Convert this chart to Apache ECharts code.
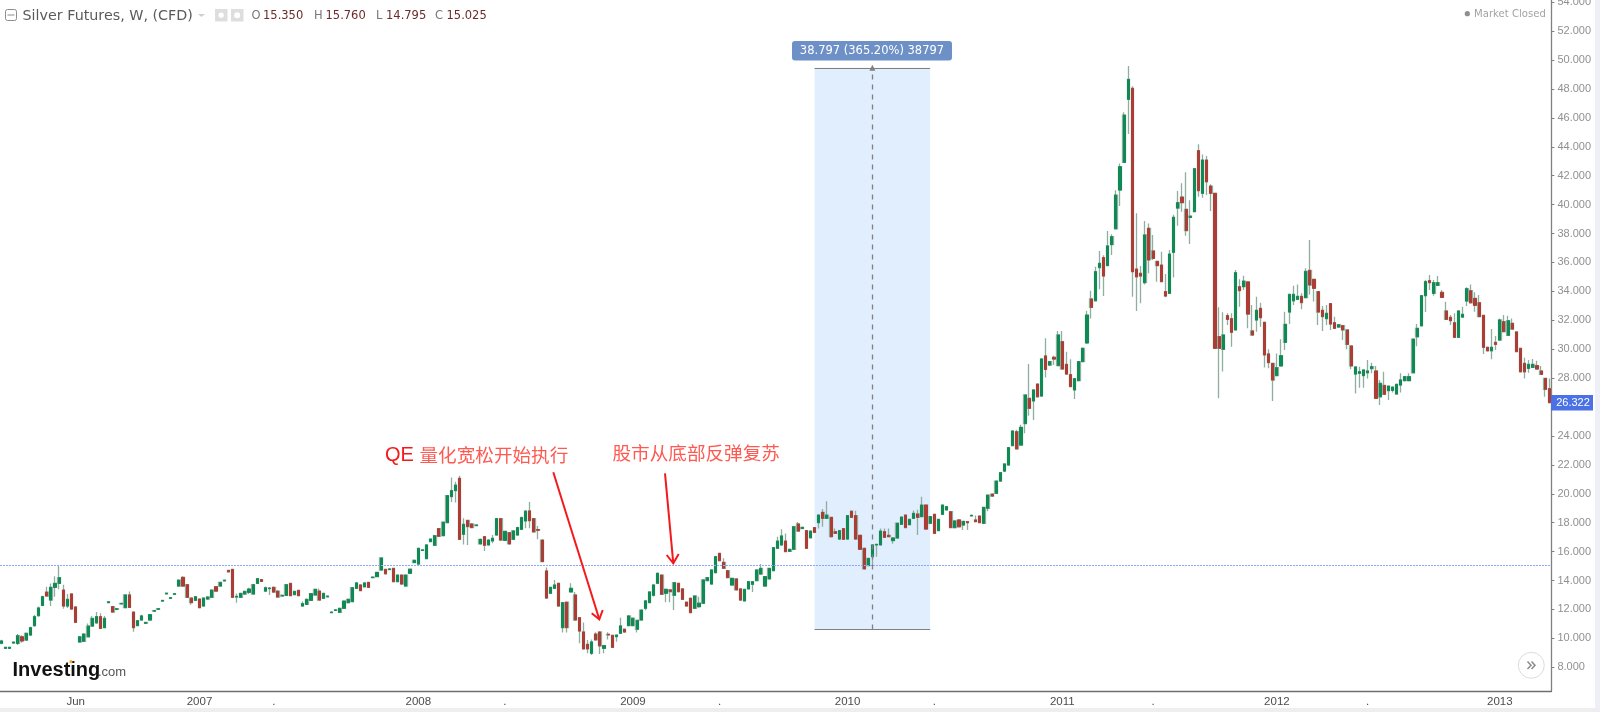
<!DOCTYPE html>
<html>
<head>
<meta charset="utf-8">
<title>Silver Futures, W, (CFD)</title>
<script src="https://cdn.jsdelivr.net/npm/echarts@6/dist/echarts.min.js"></script>
<style>
  html, body { margin: 0; padding: 0; background: #fff; }
  /* the source is a soft, upscaled screenshot */
  #chart { width: 1600px; height: 712px; filter: blur(0.45px); }
</style>
</head>
<body>
<div id="chart"></div>
<script>
// weekly candles: [open, close, low, high]
const weeks2006 = [
  [9.66,9.82,9.6,9.9],[9.31,9.38,9.3,9.4],[9.31,9.38,9.3,9.4],[9.68,9.74,9.65,9.76],[9.65,10.18,9.55,10.3],
  [10.11,9.82,9.7,10.22],[9.88,10.35,9.85,10.4],[10.23,10.74,10.2,10.8],[10.88,11.5,10.8,11.62],[11.57,12.1,11.5,12.2],
  [12.28,12.88,12.23,12.95],[13.2,12.93,12.88,13.57],[12.65,13.53,12.24,13.8],[13.53,13.8,12.88,14.3],[13.8,14.2,13.4,15.0],
  [13.34,12.24,12.05,13.7],[12.24,12.7,12.1,13.07],[13.07,12.03,12.0,13.1],[12.17,11.11,11.1,12.2],[9.75,10.11,9.72,10.15],
  [9.8,10.3,9.75,10.35],[10.11,10.85,10.08,11.03],[10.85,11.38,10.8,11.55],[11.08,11.5,11.0,11.82],[11.5,10.69,10.64,11.73],
  [10.74,11.38,10.7,11.55],[12.47,12.53,12.46,12.54],[12.2,11.82,11.8,12.22],[12.0,12.05,11.99,12.06],[12.38,12.42,12.37,12.43],
  [12.12,13.0,12.1,13.02],[13.0,12.14,12.1,13.25],[11.82,10.74,10.46,11.85],[10.88,11.22,10.85,11.25],[11.27,11.55,11.22,11.64],
  [11.04,11.1,11.03,11.11],[11.27,11.64,11.24,11.66],[11.88,11.92,11.87,11.93],[12.01,12.05,12.0,12.06],[12.58,12.62,12.57,12.63],
  [13.08,13.12,13.07,13.13],[12.77,12.81,12.76,12.82],[13.05,13.09,13.04,13.1],[13.62,14.03,13.55,14.06],[14.22,13.62,13.55,14.3],
  [13.71,12.84,12.8,13.75],[12.79,12.47,12.33,12.82],[12.63,12.88,12.6,12.92]
];
const weeks2007 = [
  [12.72,12.12,12.1,12.75],[12.24,12.79,12.2,12.82],[12.72,12.86,12.7,12.88],[12.84,13.34,12.8,13.38],[13.57,13.27,13.22,13.6],
  [13.62,13.87,13.58,13.9],[13.98,14.02,13.97,14.03],[14.7,14.6,14.58,14.72],[14.77,12.84,12.8,14.8],[12.86,12.9,12.47,13.1],
  [12.84,13.11,12.8,13.15],[13.07,13.25,13.0,13.3],[13.18,13.41,13.07,13.5],[13.07,13.71,13.02,13.75],[13.8,14.13,13.78,14.17],
  [14.06,13.94,13.9,14.1],[13.27,13.5,13.2,13.58],[13.45,13.47,13.0,13.55],[13.53,13.2,13.15,13.58],[13.27,12.86,12.82,13.3],
  [12.93,12.97,12.9,13.05],[12.97,13.71,12.95,13.75],[13.8,12.95,12.92,13.85],[13.02,13.25,12.98,13.3],[13.32,12.95,12.92,13.35],
  [12.24,12.4,12.2,12.55],[12.35,12.7,12.3,12.75],[12.63,13.09,12.6,13.12],[13.0,13.39,12.95,13.45],[13.27,12.65,12.6,13.45],
  [12.77,13.11,12.73,13.14],[12.88,12.92,12.87,12.93],[11.78,11.82,11.77,11.83],[11.93,11.97,11.92,11.98],[11.8,12.08,11.75,12.1],
  [12.08,12.58,12.05,12.6],[12.47,12.7,12.42,12.75],[12.54,13.5,12.5,13.54],[13.46,13.83,13.42,13.9],[13.69,13.3,13.26,13.73],
  [13.57,13.83,13.54,13.87],[13.87,13.53,13.5,13.9],[14.2,14.24,14.19,14.25],[14.27,14.56,14.24,14.6],[14.73,15.56,14.7,15.6],
  [14.77,14.47,14.44,14.8],[14.76,14.8,14.75,14.81],[14.84,13.92,13.9,14.88],[13.92,14.38,13.88,14.42],[14.38,13.76,13.72,14.42],
  [13.62,14.38,13.6,14.42],[14.5,14.78,14.47,14.82],[15.24,15.4,15.22,15.45]
];
const weeks2008 = [
  [15.14,16.23,15.1,16.27],[16.08,16.12,16.07,16.13],[15.51,16.46,15.47,16.5],[16.69,16.87,16.65,16.9],[16.44,17.1,16.4,17.15],
  [17.59,17.06,17.03,17.62],[17.1,18.03,17.07,18.07],[18.0,19.87,17.97,19.9],[19.8,20.22,19.43,21.12],[20.22,20.6,19.39,20.84],
  [21.07,16.85,16.82,21.25],[17.2,17.89,16.5,18.3],[18.16,17.73,16.46,18.2],[17.91,17.66,17.62,17.94],[17.8,17.84,17.79,17.85],
  [16.53,16.85,16.5,16.88],[17.03,16.44,16.05,17.08],[16.46,16.8,16.43,16.85],[16.74,16.92,16.57,17.15],[17.15,18.28,17.12,18.32],
  [18.28,16.8,16.76,18.32],[16.78,17.4,16.74,17.44],[17.31,16.53,16.5,17.35],[16.85,17.43,16.8,17.47],[17.15,17.66,17.1,17.72],
  [17.54,18.35,17.5,18.42],[18.12,18.79,17.61,18.88],[18.81,18.14,17.61,19.43],[18.28,17.36,17.32,18.32],[17.52,17.48,16.85,17.77],
  [16.8,15.31,15.28,16.84],[14.66,12.79,12.75,14.9],[13.12,13.53,13.08,13.56],[13.46,13.69,13.42,14.04],[13.81,12.24,12.2,13.85],
  [10.74,12.47,10.4,12.5],[12.5,10.74,10.4,12.53],[13.21,13.46,13.18,13.81],[13.0,11.27,11.23,13.21],[11.43,10.51,9.66,11.47],
  [10.44,9.27,9.23,11.09],[9.59,9.27,8.97,9.89],[8.97,9.75,8.85,9.93],[10.3,9.89,9.85,10.42],[10.44,9.48,8.92,10.48],
  [9.31,9.5,8.97,9.54],[10.28,10.24,9.93,10.42],[10.21,9.38,9.34,10.25],[10.12,10.23,9.77,10.27],[10.35,10.86,10.31,11.43],
  [10.63,10.44,10.4,10.66],[10.88,11.55,10.85,11.6]
];
const weeks2009 = [
  [10.88,11.39,10.85,11.43],[10.63,11.25,10.4,11.28],[11.27,11.96,11.23,12.0],[12.08,12.59,11.95,12.63],[12.47,13.21,12.43,13.25],
  [12.98,13.69,12.9,13.75],[13.81,14.5,13.78,14.55],[14.38,13.05,13.0,14.42],[13.12,13.39,12.5,13.45],[13.35,13.23,12.5,13.42],
  [12.98,13.85,11.96,13.9],[13.81,13.23,13.18,13.85],[13.42,12.7,12.66,13.46],[12.5,12.24,12.2,12.54],[12.77,11.78,11.74,12.82],
  [12.08,12.93,12.05,12.96],[12.19,12.43,12.12,12.88],[12.43,14.04,12.4,14.08],[13.99,14.2,13.95,14.25],[13.76,14.73,13.72,14.78],
  [14.54,15.65,14.5,15.7],[15.88,15.37,15.33,15.92],[15.26,14.85,14.8,15.54],[14.68,14.2,14.16,14.72],[13.69,14.15,13.65,14.2],
  [14.11,13.35,13.31,14.15],[13.42,12.65,12.6,13.46],[12.59,13.39,12.55,13.42],[13.42,13.92,13.38,13.96],[13.74,13.92,13.2,13.96],
  [13.99,14.73,13.95,14.77],[14.45,14.84,14.4,15.15],[13.62,14.27,13.58,14.3],[14.11,14.84,14.07,14.88],[14.68,16.27,14.64,16.3],
  [16.23,16.73,16.2,17.03],[16.46,17.08,16.4,17.54],[16.73,16.0,15.96,17.25],[16.02,16.16,15.98,16.2],[16.16,17.72,16.12,17.76],
  [17.91,17.42,17.38,18.05],[17.6,17.68,17.55,17.72],[17.45,16.23,16.2,17.5],[16.96,17.42,16.92,17.46],[17.66,17.33,17.28,17.7],
  [18.0,18.53,17.6,18.57],[18.72,18.3,17.72,18.95],[18.3,18.53,18.25,19.48],[18.37,17.03,16.98,18.41],[17.38,17.26,17.22,17.6],
  [16.87,17.45,16.8,17.5],[17.59,16.85,16.8,17.63]
];
const weeks2010 = [
  [16.87,18.49,16.83,18.53],[18.79,18.37,18.33,18.83],[18.49,16.87,16.83,18.83],[17.13,16.16,16.12,17.17],[16.23,14.8,14.76,16.27],
  [15.03,15.53,15.0,15.58],[15.65,16.46,15.0,16.5],[16.46,16.5,15.65,16.52],[16.46,17.42,16.42,17.6],[17.38,16.99,16.95,17.6],
  [17.13,17.03,16.99,17.6],[16.76,16.94,16.55,16.98],[16.94,17.96,16.9,18.0],[17.89,18.39,17.85,18.43],[18.53,17.66,17.62,18.57],
  [17.86,18.23,17.82,18.27],[18.3,18.65,18.26,18.85],[18.6,18.37,17.15,18.9],[18.42,19.22,18.38,19.8],[19.22,17.56,17.52,19.26],
  [17.96,18.42,17.9,18.46],[18.58,17.26,17.22,18.62],[17.45,18.23,17.4,18.27],[18.58,19.22,18.54,19.26],[18.88,19.11,18.84,19.15],
  [18.76,17.66,17.62,18.8],[17.66,18.12,17.6,18.16],[18.19,17.72,17.66,18.23],[17.84,18.09,17.49,18.13],[18.07,18.0,17.49,18.1],
  [18.47,18.51,18.46,18.52],[18.19,18.07,18.03,18.5],[18.46,18.0,17.96,18.5],[17.96,19.06,17.92,19.1],[19.0,19.91,18.8,19.95],
  [19.98,19.84,19.8,20.02],[20.03,20.88,20.0,20.92],[20.88,21.46,20.85,21.5],[21.57,22.06,21.5,22.1],[21.99,23.19,21.95,23.23],
  [23.33,24.34,23.3,24.4],[24.29,23.1,23.06,24.42],[23.37,24.59,23.33,24.78],[24.85,26.83,24.18,26.87],[26.6,25.91,25.4,28.97],
  [26.42,27.18,25.1,27.22],[27.59,26.71,26.67,27.63],[26.76,29.32,26.72,29.38],[29.53,28.6,28.05,30.75],[28.9,29.14,28.85,29.18],
  [29.44,29.32,28.9,29.55],[28.86,30.98,28.82,31.26]
];
const weeks2011 = [
  [30.52,28.63,28.59,31.26],[28.95,28.28,28.24,29.83],[28.24,27.41,27.37,29.3],[27.18,27.96,26.55,28.0],[27.82,29.14,27.78,29.18],
  [29.14,30.06,29.1,30.12],[30.43,32.36,30.38,32.66],[33.47,32.89,32.13,34.05],[33.35,35.36,33.3,35.7],[35.64,35.94,34.14,36.79],
  [36.33,35.06,33.68,36.5],[35.78,37.14,35.74,38.17],[37.23,37.78,36.51,37.95],[38.33,40.66,38.29,41.0],[41.01,42.62,39.9,42.85],
  [42.92,46.19,42.88,46.38],[47.28,48.66,44.88,49.58],[48.04,35.36,33.63,48.18],[35.54,35.01,32.64,39.4],[35.25,35.06,33.17,35.75],
  [34.6,37.9,34.48,38.86],[38.36,36.17,35.25,38.7],[36.79,36.28,36.17,37.9],[36.07,35.78,34.67,36.1],[35.82,34.67,34.63,36.74],
  [33.98,33.68,33.6,35.2],[33.86,36.58,33.82,36.86],[36.7,39.12,34.95,39.3],[39.76,40.13,38.54,40.94],[40.52,40.13,39.51,41.47],
  [39.67,38.2,37.85,42.23],[39.11,39.2,37.27,40.3],[39.51,42.48,39.47,42.52],[43.73,40.96,40.55,44.17],[40.78,43.08,40.48,43.47],
  [43.08,41.58,40.66,43.36],[41.28,40.78,39.56,41.4],[40.78,30.06,30.02,40.82],[30.87,30.06,26.6,32.9],[29.99,30.98,28.45,32.55],
  [32.32,32.06,31.67,32.48],[32.11,31.17,30.17,32.48],[31.33,35.29,31.29,35.47],[34.32,34.05,32.94,34.83],[34.32,34.71,34.09,35.08],
  [34.65,32.43,31.44,34.7],[31.26,30.98,30.94,33.06],[32.02,32.69,31.21,33.63],[32.82,32.18,31.56,33.22],[31.86,29.6,28.74,31.9],
  [29.67,29.07,28.68,29.99],[29.02,27.87,26.42,29.06],[28.17,28.72,28.13,29.71]
];
const weeks2012 = [
  [28.84,29.55,28.8,30.68],[30.47,31.72,29.94,32.59],[32.57,33.79,31.74,33.83],[33.35,33.79,33.06,34.39],[33.45,33.65,33.41,34.48],
  [33.65,33.22,32.76,33.86],[33.56,35.38,33.52,35.59],[35.45,34.44,33.79,37.55],[34.83,34.21,33.3,34.87],[33.98,32.57,31.67,34.02],
  [32.69,32.25,31.26,32.99],[32.11,32.48,31.67,33.06],[33.15,31.74,31.33,33.19],[31.83,31.44,31.4,32.25],[31.53,31.69,31.49,31.73],
  [31.63,31.33,30.63,31.67],[31.33,30.33,29.99,31.37],[30.22,28.84,28.62,30.26],[28.28,28.77,26.94,28.8],[28.33,28.44,27.34,28.79],
  [28.17,28.56,27.34,28.6],[28.37,28.49,27.98,29.25],[28.65,28.79,28.33,29.07],[28.49,26.6,26.56,28.83],[26.71,27.64,26.14,27.87],
  [27.49,26.88,26.84,28.44],[27.13,27.45,26.48,27.49],[27.15,27.38,27.0,27.42],[26.9,27.57,26.86,27.61],[27.52,27.87,27.0,28.33],
  [27.82,28.1,27.78,28.14],[27.82,28.1,27.78,28.33],[28.37,30.7,28.33,30.74],[30.86,31.44,30.2,31.74],[31.62,33.7,31.58,33.74],
  [33.7,34.67,32.57,34.78],[34.74,34.6,34.09,35.13],[33.86,34.6,33.7,34.78],[34.41,34.6,34.37,35.06],[33.93,33.58,33.54,34.09],
  [32.64,32.06,32.02,33.28],[32.2,31.97,31.67,32.36],[31.83,30.82,30.78,32.48],[30.82,32.64,30.78,32.68],[32.22,32.41,32.18,32.94],
  [33.33,34.18,32.98,34.28],[34.04,33.21,33.17,34.48],[33.51,33.03,32.59,33.93],[33.21,32.25,32.21,33.74],[32.34,30.13,29.66,32.38],
  [30.13,29.89,29.85,30.17],[29.89,30.13,29.3,31.39],[30.47,30.33,29.94,30.91]
];
const weeks2013 = [
  [30.63,32.02,30.59,32.13],[31.9,31.21,31.17,32.36],[30.96,31.97,30.92,32.32],[31.79,31.39,31.35,32.13],[31.19,29.83,29.79,31.23],
  [30.06,28.44,28.4,30.1],[29.02,28.44,27.98,29.41],[28.67,28.95,28.37,29.25],[28.74,28.95,28.7,29.32],[28.86,28.63,28.59,29.2],
  [28.49,28.26,28.22,28.83],[27.98,27.22,26.71,28.02],[27.27,26.3,26.26,27.98]
];

const tickWeeks = [18, 48, 66, 101, 122, 153, 174, 205, 226, 257, 279, 309, 331, 363];
const tickTexts = ['Jun', '2007', '.', '2008', '.', '2009', '.', '2010', '.', '2011', '.', '2012', '.', '2013'];
const priceTicks = [8, 10, 12, 14, 16, 18, 20, 22, 24, 26, 28, 30, 32, 34, 36, 38, 40, 42, 44, 46, 48, 50, 52, 54];

const lastClose = 15.025;
const rulerLow = 10.62;
const rulerHigh = 49.46;
const rulerStart = 197;
const rulerMid = 211;
const rulerEnd = 225;

const candles = [].concat(weeks2006, weeks2007, weeks2008, weeks2009, weeks2010, weeks2011, weeks2012, weeks2013);
const categories = candles.map((c, i) => 'W' + i);
// body-only copy, so the wicks can have their own pale colour underneath
const bodies = candles.map(c => [c[0], c[1], Math.min(c[0], c[1]), Math.max(c[0], c[1])]);

const wickColor = '#8fae9f';
const upColor = '#0f8a55';
const downColor = '#ab3d35';
const red = '#f4191c';
const sans = '"DejaVu Sans", sans-serif';
const cjk = '"Noto Sans CJK SC", sans-serif';

const isTick = i => tickWeeks.indexOf(i) >= 0;

function headText(x, text, color) {
  return { type: 'text', x: x, y: 16, silent: true, style: { text: text, fill: color, font: '11.5px ' + sans, verticalAlign: 'middle' } };
}

const chart = echarts.init(document.getElementById('chart'), null, { renderer: 'canvas' });
chart.setOption({
  animation: false,
  backgroundColor: '#fff',
  grid: { left: -0.7, right: 48.6, top: 0, bottom: 21, containLabel: false, outerBoundsMode: 'none' },
  xAxis: {
    type: 'category',
    data: categories,
    boundaryGap: true,
    axisLine: { lineStyle: { color: '#6f6f6f', width: 1.3 } },
    axisTick: { alignWithLabel: true, length: 3, interval: i => isTick(i), lineStyle: { color: '#7d7d7d' } },
    axisLabel: {
      interval: i => isTick(i),
      margin: 5,
      fontFamily: 'Liberation Sans',
      fontSize: 11.5,
      color: (v, i) => (i === 18 ? '#8a8a8a' : '#4d4d4d'),
      formatter: (v, i) => tickTexts[tickWeeks.indexOf(i)]
    },
    splitLine: { show: false }
  },
  yAxis: {
    type: 'value',
    position: 'right',
    min: 6.36,
    max: 54.15,
    scale: true,
    axisLine: { show: true, lineStyle: { color: '#808080', width: 1.3 } },
    axisTick: { show: true, length: 3, lineStyle: { color: '#808080' }, customValues: priceTicks },
    axisLabel: {
      margin: 6,
      fontFamily: 'Liberation Sans',
      fontSize: 11,
      color: '#909090',
      customValues: priceTicks,
      formatter: v => v.toFixed(3)
    },
    splitLine: { show: false }
  },
  series: [
    {
      name: 'wicks',
      type: 'candlestick',
      data: candles,
      barWidth: 3,
      itemStyle: { color: wickColor, color0: wickColor, borderColor: wickColor, borderColor0: wickColor, borderWidth: 1.3 },
      markArea: {
        silent: true,
        itemStyle: { color: '#e0eefe' },
        data: [[{ coord: [categories[rulerStart], rulerLow] }, { coord: [categories[rulerEnd], rulerHigh] }]]
      }
    },
    {
      name: 'Silver Futures',
      type: 'candlestick',
      data: bodies,
      barWidth: 2.6,
      itemStyle: { color: upColor, color0: downColor, borderColor: upColor, borderColor0: downColor, borderWidth: 1 },
      markLine: {
        silent: true,
        animation: false,
        symbol: 'none',
        label: { show: false },
        data: [
          [
            { yAxis: lastClose, x: 0, lineStyle: { color: '#8ea6f7', type: [2, 1], width: 1 } },
            { yAxis: lastClose, x: 1551 }
          ],
          [
            { coord: [categories[rulerStart], rulerHigh], lineStyle: { color: '#808080', type: 'solid', width: 1.2 } },
            { coord: [categories[rulerEnd], rulerHigh] }
          ],
          [
            { coord: [categories[rulerStart], rulerLow], lineStyle: { color: '#808080', type: 'solid', width: 1.2 } },
            { coord: [categories[rulerEnd], rulerLow] }
          ],
          [
            { coord: [categories[rulerMid], rulerLow], lineStyle: { color: '#808080', type: [5, 5], width: 1.3 } },
            { coord: [categories[rulerMid], rulerHigh], symbol: 'triangle', symbolSize: 6 }
          ]
        ]
      }
    }
  ],
  graphic: [
    // page edges
    { type: 'rect', shape: { x: 1595, y: 0, width: 5, height: 712 }, style: { fill: '#edf1f7' }, silent: true },
    { type: 'rect', shape: { x: 0, y: 708, width: 1600, height: 4 }, style: { fill: '#eeeeee' }, silent: true },

    // header
    { type: 'rect', shape: { x: 5.5, y: 9.5, width: 11, height: 11, r: 2 }, style: { fill: '#fff', stroke: '#8c8c8c' }, silent: true },
    { type: 'line', shape: { x1: 7.5, y1: 15, x2: 14.5, y2: 15 }, style: { stroke: '#8c8c8c' }, silent: true },
    { type: 'text', x: 22.5, y: 16, silent: true, style: { text: 'Silver Futures, W, (CFD)', fill: '#5a5a5a', font: '14.3px ' + sans, verticalAlign: 'middle' } },
    { type: 'polygon', shape: { points: [[198, 14], [205, 14], [201.5, 17]] }, style: { fill: '#cfcfcf' }, silent: true },
    { type: 'rect', shape: { x: 215, y: 9, width: 12.5, height: 12.5 }, style: { fill: '#dedede' }, silent: true },
    { type: 'circle', shape: { cx: 221.2, cy: 15.2, r: 2.6 }, style: { fill: '#fff' }, silent: true },
    { type: 'rect', shape: { x: 231, y: 9, width: 12.5, height: 12.5 }, style: { fill: '#dedede' }, silent: true },
    { type: 'circle', shape: { cx: 237.2, cy: 15.2, r: 3 }, style: { fill: '#fff' }, silent: true },
    headText(251.5, 'O', '#777'), headText(263, '15.350', '#6b2b2b'),
    headText(314, 'H', '#777'), headText(325.5, '15.760', '#6b2b2b'),
    headText(376, 'L', '#777'), headText(386, '14.795', '#6b2b2b'),
    headText(435, 'C', '#777'), headText(446.5, '15.025', '#6b2b2b'),
    { type: 'circle', shape: { cx: 1467.3, cy: 13.7, r: 2.6 }, style: { fill: '#8f8f8f' }, silent: true },
    { type: 'text', x: 1474, y: 14, silent: true, style: { text: 'Market Closed', fill: '#a3a3a3', font: '10.1px ' + sans, verticalAlign: 'middle' } },

    // ruler label
    { type: 'rect', z: 10, shape: { x: 792, y: 41, width: 160, height: 19.5, r: 3 }, style: { fill: '#6d90c6' }, silent: true },
    { type: 'text', z: 11, x: 872, y: 51, silent: true, style: { text: '38.797 (365.20%) 38797', fill: '#fff', font: '11.5px ' + sans, align: 'center', verticalAlign: 'middle' } },

    // last price tag
    { type: 'rect', z: 10, shape: { x: 1551, y: 395, width: 42, height: 15.5 }, style: { fill: '#4a72e6' }, silent: true },
    { type: 'text', z: 11, x: 1573, y: 403, silent: true, style: { text: '26.322', fill: '#fff', font: '11px Liberation Sans', align: 'center', verticalAlign: 'middle' } },

    // annotations
    { type: 'text', z: 12, x: 385, y: 455, silent: true, style: { text: 'QE', fill: red, font: '20px Liberation Sans', verticalAlign: 'middle' } },
    { type: 'text', z: 12, x: 419.5, y: 455, silent: true, style: { text: '量化宽松开始执行', fill: '#ff5a52', font: '18.6px ' + cjk, verticalAlign: 'middle' } },
    { type: 'text', z: 12, x: 612.5, y: 453, silent: true, style: { text: '股市从底部反弹复苏', fill: '#ff5a52', font: '18.6px ' + cjk, verticalAlign: 'middle' } },
    { type: 'line', z: 12, shape: { x1: 553.3, y1: 472.3, x2: 599.3, y2: 619.3 }, style: { stroke: red, lineWidth: 2 }, silent: true },
    { type: 'polyline', z: 12, shape: { points: [[591.7, 613.3], [599.3, 619.3], [602.7, 610]] }, style: { stroke: red, lineWidth: 2, fill: 'none' }, silent: true },
    { type: 'line', z: 12, shape: { x1: 665, y1: 473.3, x2: 673.3, y2: 563.3 }, style: { stroke: red, lineWidth: 2 }, silent: true },
    { type: 'polyline', z: 12, shape: { points: [[666.7, 555], [673.3, 563.3], [678.7, 554]] }, style: { stroke: red, lineWidth: 2, fill: 'none' }, silent: true },

    // logo
    { type: 'text', z: 12, x: 12.5, y: 670, silent: true, style: { text: 'Investing', fill: '#111', font: 'bold 20px Liberation Sans', verticalAlign: 'middle' } },
    { type: 'text', z: 12, x: 98, y: 672, silent: true, style: { text: '.com', fill: '#555', font: '13px Liberation Sans', verticalAlign: 'middle' } },
    { type: 'circle', z: 13, shape: { cx: 71, cy: 661.7, r: 1.6 }, style: { fill: '#f5a623' }, silent: true },

    // scroll button
    { type: 'circle', z: 12, shape: { cx: 1531.3, cy: 665.3, r: 13 }, style: { fill: '#fff', stroke: '#dcdcdc' }, silent: true },
    { type: 'polyline', z: 13, shape: { points: [[1527.5, 661.5], [1531, 665.3], [1527.5, 669]] }, style: { stroke: '#8a8a8a', lineWidth: 1.5, fill: 'none' }, silent: true },
    { type: 'polyline', z: 13, shape: { points: [[1531.5, 661.5], [1535, 665.3], [1531.5, 669]] }, style: { stroke: '#8a8a8a', lineWidth: 1.5, fill: 'none' }, silent: true }
  ]
});
</script>
</body>
</html>
